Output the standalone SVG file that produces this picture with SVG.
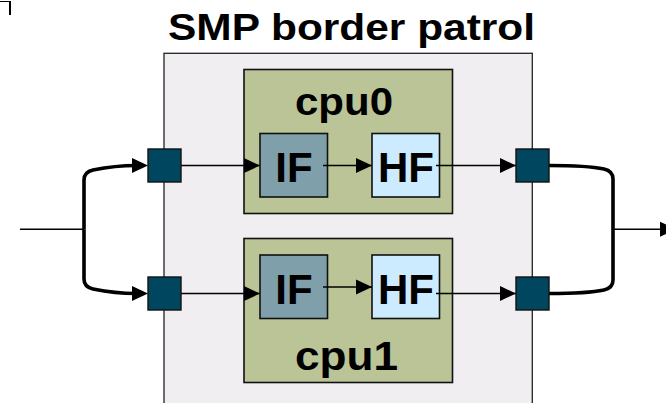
<svg xmlns="http://www.w3.org/2000/svg" width="666" height="403" viewBox="0 0 666 403">
<defs>
<style>
.box{stroke:#111;stroke-width:1.6}
.port{fill:#00465E;stroke:#111;stroke-width:1.4}
.cpu{fill:#BBC497}
.if{fill:#7FA0AA}
.hf{fill:#CCEBFF}
.lbl{font-family:"Liberation Sans",Arial,sans-serif;font-weight:bold;fill:#000}
.thin{fill:none;stroke:#000;stroke-width:1.5}
.thick{fill:none;stroke:#000;stroke-width:3.6}
</style>
<marker id="arr" markerUnits="userSpaceOnUse" markerWidth="16" markerHeight="15" refX="16" refY="7.5" orient="auto" overflow="visible">
<path d="M0,0 L16,7.5 L0,15 Z" fill="#000"/>
</marker>
<marker id="arrT" markerUnits="userSpaceOnUse" markerWidth="16" markerHeight="15" refX="4" refY="7.5" orient="auto" overflow="visible">
<path d="M0,0 L16,7.5 L0,15 Z" fill="#000"/>
</marker>
</defs>
<rect width="666" height="403" fill="#fff"/>
<path d="M0,1.5 H10" stroke="#000" stroke-width="1"/>
<path d="M10,1 V15" stroke="#000" stroke-width="2"/>
<g id="border">
<rect x="164" y="53.3" width="368.3" height="360" fill="#F0EEF1" stroke="#222" stroke-width="1.3"/>
<text class="lbl" x="168" y="40" font-size="36" textLength="367" lengthAdjust="spacingAndGlyphs">SMP border patrol</text>
</g>
<g id="cpu0">
<rect class="box cpu" x="244" y="69.5" width="208.5" height="144"/>
<text class="lbl" x="295" y="115" font-size="38" textLength="98" lengthAdjust="spacingAndGlyphs">cpu0</text>
</g>
<g id="cpu1">
<rect class="box cpu" x="244" y="238.5" width="208.5" height="144"/>
<text class="lbl" x="295" y="370" font-size="40" textLength="103" lengthAdjust="spacingAndGlyphs">cpu1</text>
</g>
<g id="if0">
<rect class="box if" x="260" y="133.5" width="67.5" height="63.5"/>
<text class="lbl" x="294" y="182" font-size="42" text-anchor="middle">IF</text>
</g>
<g id="hf0">
<rect class="box hf" x="372" y="133.5" width="67.5" height="63.5"/>
<text class="lbl" x="406" y="182" font-size="42" text-anchor="middle">HF</text>
</g>
<g id="if1">
<rect class="box if" x="260" y="255" width="67.5" height="63.5"/>
<text class="lbl" x="294" y="304" font-size="42" text-anchor="middle">IF</text>
</g>
<g id="hf1">
<rect class="box hf" x="372" y="255" width="67.5" height="63.5"/>
<text class="lbl" x="406" y="304" font-size="42" text-anchor="middle">HF</text>
</g>
<g id="connectors">
<path class="thin" d="M20,229.3 H84"/>
<path class="thick" d="M84,229.3 V180 Q84,172 93,170 C108,167 120,165.5 136,165.5" marker-end="url(#arrT)"/>
<path class="thick" d="M84,229.3 V279 Q84,287 93,289 C108,292 120,293.5 136,293.5" marker-end="url(#arrT)"/>
<path class="thin" d="M181,165.5 H260" marker-end="url(#arr)"/>
<path class="thin" d="M181,293.5 H260" marker-end="url(#arr)"/>
<path class="thin" d="M323,165.5 H372" marker-end="url(#arr)"/>
<path class="thin" d="M323,287 H372" marker-end="url(#arr)"/>
<path class="thin" d="M436,165.5 H516" marker-end="url(#arr)"/>
<path class="thin" d="M436,293.5 H516" marker-end="url(#arr)"/>
<path class="thick" d="M549,165.5 C570,165.5 590,166 604,169 Q613,171 613,179 V280 Q613,288 604,290 C590,293 570,293.5 549,293.5"/>
<path class="thin" d="M613,229.3 H676" marker-end="url(#arr)"/>
</g>
<g id="ports">
<rect class="port" x="148" y="149" width="33" height="33"/>
<rect class="port" x="148" y="277" width="33" height="33"/>
<rect class="port" x="516" y="149" width="33" height="33"/>
<rect class="port" x="516" y="277" width="33" height="33"/>
</g>
</svg>
